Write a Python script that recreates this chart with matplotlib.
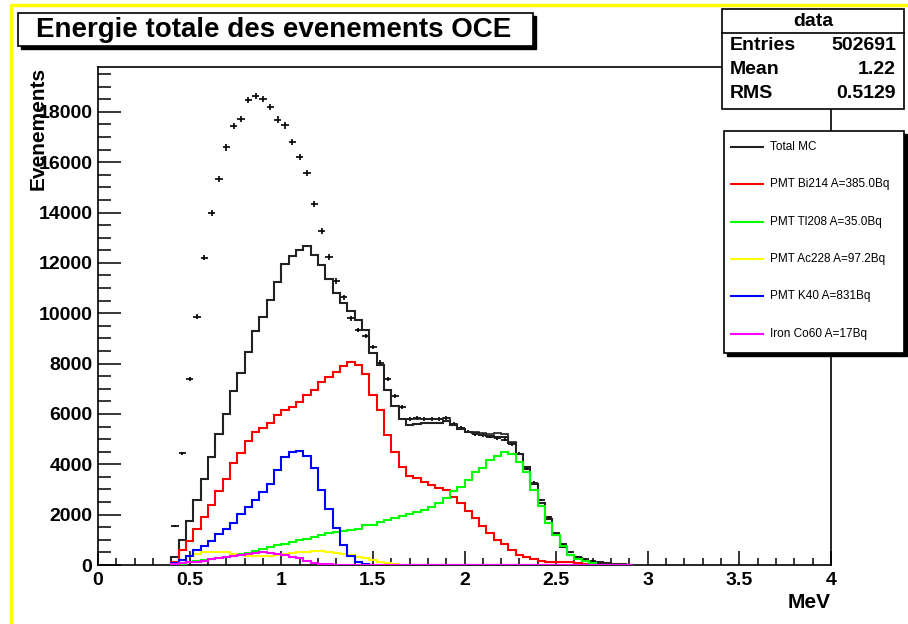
import numpy as np
import matplotlib
matplotlib.use('Agg')
import matplotlib.pyplot as plt
from matplotlib.patches import Rectangle
from matplotlib.ticker import MultipleLocator, FuncFormatter

plt.rcParams['font.family'] = ['Liberation Sans', 'DejaVu Sans']

# binning: 0.04 MeV bins starting at 0.40 MeV
bin_lo = 0.40
bin_w = 0.04

# measured spectrum (counts per bin)
data = [1545, 4435, 7400, 9860, 12210, 13970, 15340, 16590, 17430, 17715,
        18467, 18626, 18507, 18190, 17690, 17465, 16805, 16210, 15564, 14337,
        13280, 12238, 11287, 10626, 9794, 9334, 9097, 8660, 8040, 7380,
        6710, 6270, 5790, 5848, 5809, 5809, 5790, 5848, 5620, 5430,
        5300, 5185, 5170, 5100, 5030, 4980, 4800, 4420, 3830, 3270,
        2590, 1900, 1254, 820, 500, 320, 230, 150, 100, 70,
        40, 25, 10]

total_mc = [330, 1000, 1760, 2574, 3432, 4290, 5188, 5980, 6904, 7630,
            8475, 9280, 9860, 10520, 11260, 11970, 12277, 12515, 12673, 12317,
            11909, 11354, 10800, 10388, 10099, 9731, 9335, 8440, 7960, 6958,
            6320, 5810, 5545, 5611, 5637, 5637, 5640, 5720, 5545, 5400,
            5280, 5250, 5180, 5120, 5080, 5100, 4845, 4396, 3894, 3234,
            2469, 1808, 1188, 726, 396, 264, 172, 92, 66, 66,
            40, 20, 10]

# second summed curve, only where it departs from total_mc (1.64 - 2.32 MeV)
total_alt_lo = 1.64
total_alt = [5810, 5809, 5809, 5809, 5809, 5809, 5848, 5600, 5420, 5300,
             5280, 5250, 5215, 5240, 5215, 4900, 4396]

bi214 = [132, 594, 964, 1413, 1914, 2402, 2931, 3432, 4053, 4440,
         4911, 5281, 5452, 5637, 5950, 6139, 6270, 6468, 6733, 6931,
         7260, 7485, 7657, 7921, 8053, 7947, 7591, 6733, 6165, 5149,
         4488, 3894, 3525, 3459, 3300, 3168, 3063, 2980, 2700, 2450,
         2150, 1850, 1550, 1260, 1000, 820, 580, 400, 300, 230,
         140, 130, 130, 130, 120, 60, 40]

tl208 = [0, 40, 106, 145, 198, 238, 264, 304, 356, 420,
         470, 560, 655, 720, 785, 850, 918, 985, 1030, 1100,
         1180, 1260, 1320, 1346, 1390, 1440, 1571, 1600, 1700, 1790,
         1870, 1950, 2030, 2100, 2178, 2310, 2469, 2680, 2931, 3110,
         3380, 3700, 3850, 4158, 4317, 4488, 4396, 4092, 3696, 2997,
         2337, 1650, 1188, 752, 396, 224, 172, 66]

ac228 = [60, 200, 360, 450, 500, 530, 530, 500, 450, 400,
         370, 340, 340, 370, 400, 450, 490, 510, 530, 550,
         550, 530, 490, 440, 400, 330, 260, 200, 100, 60,
         30, 15]

k40 = [60, 198, 356, 594, 752, 964, 1228, 1426, 1677, 2007,
       2284, 2574, 2904, 3234, 3789, 4290, 4488, 4528, 4317, 3855,
       2970, 2244, 1452, 792, 356, 132, 40]

co60 = [20, 60, 100, 130, 170, 220, 265, 330, 370, 400,
        440, 490, 500, 480, 440, 400, 330, 260, 170, 90,
        50, 20, 10, 5]

labels = ['Total MC', 'PMT Bi214 A=385.0Bq', 'PMT Tl208 A=35.0Bq',
          'PMT Ac228 A=97.2Bq', 'PMT K40 A=831Bq', 'Iron Co60 A=17Bq']
colors = ['#222222', '#ff0000', '#00ff00', '#ffff00', '#0000ff', '#ff00ff']

stats = [('Entries', '502691'), ('Mean', '1.22'), ('RMS', '0.5129')]

nbins = len(data)
edges = bin_lo + bin_w * np.arange(nbins + 1)
centers = 0.5 * (edges[:-1] + edges[1:])


def pad(vals):
    out = np.zeros(nbins)
    out[:len(vals)] = vals
    return out


W, H = 908, 624
fig = plt.figure(figsize=(W / 100, H / 100), dpi=100)
fig.patch.set_facecolor('white')

ax = fig.add_axes([98 / W, 1 - 565 / H, (831 - 98) / W, (565 - 67) / H])

lw = 1.5
d = np.array(data, dtype=float)
ax.errorbar(centers, d, xerr=bin_w / 2, yerr=np.sqrt(d), fmt='none',
            ecolor='black', elinewidth=1.2, capsize=0, zorder=3)
ax.stairs(pad(total_mc), edges, color=colors[0], lw=lw, zorder=4)
alt_edges = total_alt_lo + bin_w * np.arange(len(total_alt) + 1)
ax.stairs(total_alt, alt_edges, baseline=None, color=colors[0], lw=1.2, zorder=4)
for vals, c in zip([bi214, tl208, ac228, k40, co60], colors[1:]):
    ax.stairs(pad(vals), edges, color=c, lw=lw, zorder=5)

ax.set_xlim(0, 4)
ax.set_ylim(0, 19780)
ax.xaxis.set_major_locator(MultipleLocator(0.5))
ax.xaxis.set_minor_locator(MultipleLocator(0.1))
ax.yaxis.set_major_locator(MultipleLocator(2000))
ax.yaxis.set_minor_locator(MultipleLocator(500))
ax.xaxis.set_major_formatter(FuncFormatter(lambda v, p: '%g' % v))
ax.yaxis.set_major_formatter(FuncFormatter(lambda v, p: '%d' % v))
ax.tick_params(axis='both', direction='in', width=1.1, labelsize=14,
               top=False, right=False, which='both')
ax.tick_params(axis='x', which='major', length=10, pad=5)
ax.tick_params(axis='x', which='minor', length=5)
ax.tick_params(axis='y', which='major', length=16.5, pad=4)
ax.tick_params(axis='y', which='minor', length=9.5)
for t in ax.get_xticklabels() + ax.get_yticklabels():
    t.set_fontweight('bold')
for s in ax.spines.values():
    s.set_linewidth(1.2)

# overlay in pixel units for the boxes and labels
ov = fig.add_axes([0, 0, 1, 1])
ov.set_xlim(0, W)
ov.set_ylim(H, 0)
ov.axis('off')

# canvas frame
ov.plot([11, 11, W], [H, 5, 5], color='#ffff00', lw=2.5, solid_capstyle='butt')

ov.text(38, 67, 'Evenements', rotation=90, ha='center', va='top',
        fontsize=15, fontweight='bold')
ov.text(831, 603, 'MeV', ha='right', va='center', fontsize=15, fontweight='bold')


def box(x0, y0, x1, y1, shadow=0):
    if shadow:
        ov.add_patch(Rectangle((x0 + shadow, y0 + shadow), x1 - x0, y1 - y0,
                               facecolor='black', edgecolor='black', lw=1))
    ov.add_patch(Rectangle((x0, y0), x1 - x0, y1 - y0,
                           facecolor='white', edgecolor='black', lw=1.2))


# title
box(18, 13, 533, 46, shadow=3)
ov.text(274, 30, 'Energie totale des evenements OCE', ha='center', va='center',
        fontsize=20, fontweight='bold')

# statistics box
box(722, 9, 904, 109)
ov.plot([722, 904], [33, 33], color='black', lw=1.2)
ov.text(813, 21, 'data', ha='center', va='center', fontsize=14, fontweight='bold')
for k, (name, val) in enumerate(stats):
    y = 45 + 24.5 * k
    ov.text(730, y, name, ha='left', va='center', fontsize=14, fontweight='bold')
    ov.text(896, y, val, ha='right', va='center', fontsize=14, fontweight='bold')

# legend
box(724, 131, 904, 353, shadow=3)
for k, (lab, c) in enumerate(zip(labels, colors)):
    y = 147 + 37.3 * k
    ov.plot([731, 763], [y, y], color=c, lw=1.5)
    ov.text(770, y, lab, ha='left', va='center', fontsize=8.5)

fig.savefig('out.png', dpi=100)
